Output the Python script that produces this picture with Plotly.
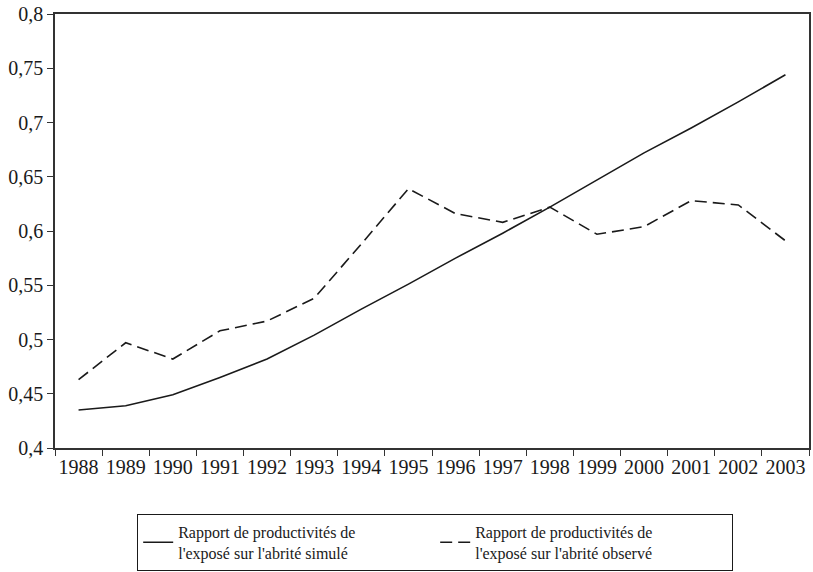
import plotly.graph_objects as go

years = ["1988", "1989", "1990", "1991", "1992", "1993", "1994", "1995",
         "1996", "1997", "1998", "1999", "2000", "2001", "2002", "2003"]
simule = [0.435, 0.439, 0.449, 0.465, 0.482, 0.504, 0.528, 0.551,
          0.575, 0.598, 0.622, 0.647, 0.672, 0.695, 0.719, 0.744]
observe = [0.463, 0.497, 0.482, 0.508, 0.517, 0.538, 0.588, 0.639,
           0.616, 0.608, 0.622, 0.597, 0.604, 0.628, 0.624, 0.591]
ytick_vals = [0.4, 0.45, 0.5, 0.55, 0.6, 0.65, 0.7, 0.75, 0.8]
ytick_text = ["0,4", "0,45", "0,5", "0,55", "0,6", "0,65", "0,7", "0,75", "0,8"]
name_sim = "Rapport de productivités de<br>l'exposé sur l'abrité simulé"
name_obs = "Rapport de productivités de<br>l'exposé sur l'abrité observé"

fig = go.Figure()
fig.add_trace(go.Scatter(x=years, y=simule, mode="lines", name=name_sim,
                         line=dict(color="#1a1a1a", width=1.6)))
fig.add_trace(go.Scatter(x=years, y=observe, mode="lines", name=name_obs,
                         line=dict(color="#1a1a1a", width=1.6, dash="12px,6px")))

font = "Liberation Serif, Times New Roman, serif"
fig.update_layout(
    width=813, height=572,
    margin=dict(l=55, r=4, t=14, b=124, autoexpand=False),
    paper_bgcolor="white", plot_bgcolor="white",
    font=dict(family=font, size=20, color="#1a1a1a"),
    showlegend=True,
    legend=dict(orientation="h", x=0.109, y=-0.152, xanchor="left", yanchor="top",
                bordercolor="#1a1a1a", borderwidth=1, bgcolor="white",
                font=dict(family=font, size=16, color="#1a1a1a"),
                entrywidth=252, tracegroupgap=0, valign="middle"),
)
fig.update_xaxes(type="category", showgrid=False, showline=True, linecolor="#333",
                 linewidth=1.5, mirror=True, ticks="outside", tickson="boundaries",
                 ticklen=6, tickcolor="#333", range=[-0.5, 15.5], automargin=False,
                 tickangle=0)
fig.update_yaxes(range=[0.4, 0.8], tickvals=ytick_vals, ticktext=ytick_text,
                 showgrid=False, showline=True, linecolor="#333", linewidth=1.5,
                 mirror=True, ticks="outside", ticklen=6, tickcolor="#333",
                 zeroline=False, automargin=False)
fig.write_html("out.html", config={"displayModeBar": False},
               post_script="document.body.style.margin='0';document.body.style.padding='0';")
